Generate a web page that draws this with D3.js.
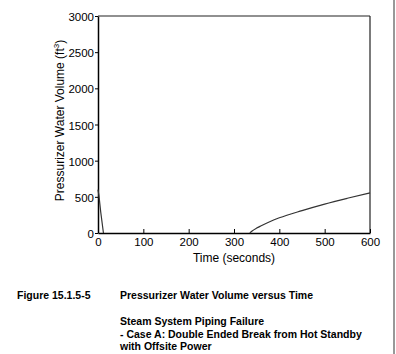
<!DOCTYPE html>
<html><head><meta charset="utf-8">
<script src="https://cdn.jsdelivr.net/npm/d3@7"></script>
<style>body{margin:0;background:#fff}svg{display:block;font-family:"Liberation Sans",Arial,sans-serif}</style>
</head><body><svg id="c" width="396" height="354"></svg>
<script>
const seg1Time = [0, 2, 6, 12];
const seg1Vol = [600, 520, 290, 0];
const seg2Time = [335, 340, 350, 360, 380, 400, 450, 500, 550, 600];
const seg2Vol = [0, 28, 68, 100, 160, 210, 310, 400, 480, 555];
const xTicks = [0, 100, 200, 300, 400, 500, 600];
const yTicks = [0, 500, 1000, 1500, 2000, 2500, 3000];

const svg = d3.select("#c");
const L = 98, R = 370, T = 16, B = 233;
const x = d3.scaleLinear().domain([0, 600]).range([L, R]);
const y = d3.scaleLinear().domain([0, 3000]).range([B, T]);

// frame
svg.append("line").attr("x1", L).attr("x2", R).attr("y1", T).attr("y2", T).attr("stroke", "#222").attr("stroke-width", 1.2);
svg.append("line").attr("x1", R).attr("x2", R).attr("y1", T).attr("y2", B).attr("stroke", "#222").attr("stroke-width", 1.2);

const fmt = d3.format("d");
const xa = svg.append("g").attr("transform", `translate(0,${B})`)
  .call(d3.axisBottom(x).tickValues(xTicks).tickFormat(fmt).tickSizeInner(-4).tickSizeOuter(0).tickPadding(8));
const ya = svg.append("g").attr("transform", `translate(${L},0)`)
  .call(d3.axisLeft(y).tickValues(yTicks).tickFormat(fmt).tickSizeInner(3).tickSizeOuter(0).tickPadding(1));
[xa, ya].forEach(g => {
  g.select(".domain").attr("stroke", "#000").attr("stroke-width", 1.5);
  g.selectAll(".tick line").attr("stroke", "#000");
  g.selectAll("text").attr("font-size", 11.5).attr("font-family", "Liberation Sans, Arial, sans-serif").attr("fill", "#000");
});
xa.selectAll("text").attr("dy", "0.45em");
ya.selectAll("text").attr("dy", "0.4em");

const line = d3.line().x(d => x(d[0])).y(d => y(d[1]));
svg.append("path").datum(seg1Time.map((t, i) => [t, seg1Vol[i]]))
  .attr("d", line).attr("fill", "none").attr("stroke", "#333").attr("stroke-width", 1.2);
svg.append("path").datum(seg2Time.map((t, i) => [t, seg2Vol[i]]))
  .attr("d", d3.line().x(d => x(d[0])).y(d => y(d[1])).curve(d3.curveMonotoneX))
  .attr("fill", "none").attr("stroke", "#333").attr("stroke-width", 1.2);

// axis titles
svg.append("text").attr("x", 234).attr("y", 262).attr("text-anchor", "middle")
  .attr("font-size", 12).text("Time (seconds)");
const yt = svg.append("text").attr("transform", `translate(64,${(T + B) / 2 - 4}) rotate(-90)`)
  .attr("text-anchor", "middle").attr("font-size", 12);
yt.append("tspan").text("Pressurizer Water Volume (ft");
yt.append("tspan").attr("font-size", 8).attr("dy", -5).text("3");
yt.append("tspan").attr("dy", 5).text(")");

// right vertical rule
svg.append("line").attr("x1", 394).attr("x2", 394).attr("y1", 0).attr("y2", 354).attr("stroke", "#333").attr("stroke-width", 1);

// caption
const cap = svg.append("g").attr("font-size", 10.5).attr("font-weight", "bold").attr("fill", "#000");
cap.append("text").attr("x", 17).attr("y", 299).text("Figure 15.1.5-5");
cap.append("text").attr("x", 120).attr("y", 299).text("Pressurizer Water Volume versus Time");
cap.append("text").attr("x", 120).attr("y", 325).text("Steam System Piping Failure");
cap.append("text").attr("x", 120).attr("y", 338).text("- Case A: Double Ended Break from Hot Standby");
cap.append("text").attr("x", 120).attr("y", 350).text("with Offsite Power");
</script></body></html>
